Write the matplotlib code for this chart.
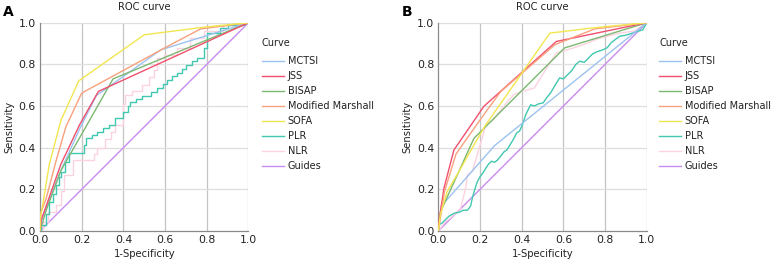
import matplotlib
matplotlib.use("Agg")
import matplotlib.pyplot as plt

plt.rcParams['font.family'] = ['DejaVu Sans']

names = ['MCTSI', 'JSS', 'BISAP', 'Modified Marshall', 'SOFA', 'PLR', 'NLR', 'Guides']
colors = ['#9cc3f0', '#f0506e', '#7cb872', '#f9a07c', '#f2e650', '#40c8b0', '#fcd2e0', '#c88cf0']

# Panel A curves (1-specificity, sensitivity)
a_mctsi_x = [0, 0.01, 0.1, 0.19, 0.27, 0.58, 1]
a_mctsi_y = [0, 0.06, 0.29, 0.49, 0.65, 0.87, 1]
a_jss_x = [0, 0.005, 0.1, 0.19, 0.28, 1]
a_jss_y = [0, 0.05, 0.32, 0.51, 0.67, 1]
a_bisap_x = [0, 0.03, 0.1, 0.22, 0.35, 1]
a_bisap_y = [0, 0.1, 0.29, 0.5, 0.73, 1]
a_mm_x = [0, 0.005, 0.03, 0.076, 0.124, 0.2, 0.6, 0.77, 1]
a_mm_y = [0, 0.09, 0.157, 0.333, 0.5, 0.662, 0.88, 0.97, 1]
a_sofa_x = [0, 0.0, 0.013, 0.044, 0.1, 0.186, 0.5, 0.8, 1]
a_sofa_y = [0, 0.06, 0.125, 0.317, 0.53, 0.721, 0.942, 0.98, 1]
a_plr_x = [0, 0.005, 0.005, 0.03, 0.03, 0.044, 0.044, 0.06, 0.06, 0.076, 0.076, 0.09, 0.09, 0.1,
           0.1, 0.12, 0.12, 0.14, 0.14, 0.211, 0.211, 0.22, 0.22, 0.25, 0.25, 0.275, 0.275, 0.3,
           0.3, 0.33, 0.33, 0.362, 0.362, 0.4, 0.4, 0.42, 0.42, 0.433, 0.433, 0.46, 0.46, 0.489,
           0.489, 0.53, 0.53, 0.563, 0.563, 0.59, 0.59, 0.611, 0.611, 0.635, 0.635, 0.659, 0.659,
           0.68, 0.68, 0.699, 0.699, 0.73, 0.73, 0.754, 0.754, 0.786, 0.786, 0.801, 0.801, 0.865,
           0.865, 0.9, 0.9, 0.98, 0.98, 1]
a_plr_y = [0, 0.0, 0.03, 0.03, 0.08, 0.08, 0.14, 0.14, 0.18, 0.18, 0.22, 0.22, 0.26, 0.26,
           0.285, 0.285, 0.33, 0.33, 0.373, 0.373, 0.413, 0.413, 0.445, 0.445, 0.46, 0.46, 0.477,
           0.477, 0.494, 0.494, 0.51, 0.51, 0.542, 0.542, 0.57, 0.57, 0.6, 0.6, 0.62, 0.62, 0.635,
           0.635, 0.647, 0.647, 0.665, 0.665, 0.686, 0.686, 0.705, 0.705, 0.726, 0.726, 0.742,
           0.742, 0.758, 0.758, 0.78, 0.78, 0.798, 0.798, 0.815, 0.815, 0.83, 0.83, 0.878, 0.878,
           0.95, 0.95, 0.975, 0.975, 0.99, 0.99, 1, 1]
a_nlr_x = [0, 0.013, 0.013, 0.04, 0.04, 0.076, 0.076, 0.1, 0.1, 0.116, 0.116, 0.156, 0.156,
           0.259, 0.259, 0.274, 0.274, 0.314, 0.314, 0.34, 0.34, 0.362, 0.362, 0.378, 0.378,
           0.4, 0.4, 0.41, 0.41, 0.441, 0.441, 0.49, 0.49, 0.524, 0.524, 0.545, 0.545, 0.563,
           0.563, 0.595, 0.595, 0.658, 0.658, 0.72, 0.72, 0.786, 0.786, 0.88, 0.88, 0.98, 0.98, 1]
a_nlr_y = [0, 0, 0.045, 0.045, 0.09, 0.09, 0.125, 0.125, 0.19, 0.19, 0.27, 0.27, 0.34, 0.34,
           0.37, 0.37, 0.397, 0.397, 0.44, 0.44, 0.477, 0.477, 0.509, 0.509, 0.51, 0.51, 0.61,
           0.61, 0.654, 0.654, 0.67, 0.67, 0.7, 0.7, 0.74, 0.74, 0.774, 0.774, 0.83, 0.83, 0.846,
           0.846, 0.88, 0.88, 0.926, 0.926, 0.96, 0.96, 0.99, 0.99, 1, 1]

# Panel B curves
b_mctsi_x = [0, 0.015, 0.27, 1]
b_mctsi_y = [0, 0.12, 0.41, 1]
b_jss_x = [0, 0.003, 0.027, 0.075, 0.219, 0.566, 1]
b_jss_y = [0, 0.045, 0.205, 0.389, 0.599, 0.91, 1]
b_bisap_x = [0, 0.011, 0.171, 0.606, 1]
b_bisap_y = [0, 0.093, 0.445, 0.879, 1]
b_mm_x = [0, 0.03, 0.085, 0.23, 0.3, 0.56, 0.75, 1]
b_mm_y = [0, 0.19, 0.37, 0.575, 0.67, 0.895, 0.97, 1]
b_sofa_x = [0, 0.01, 0.043, 0.107, 0.171, 0.227, 0.535, 0.742, 1]
b_sofa_y = [0, 0.08, 0.19, 0.3, 0.413, 0.509, 0.95, 0.975, 1]
b_plr_x = [0, 0.003, 0.02, 0.03, 0.05, 0.075, 0.1, 0.12, 0.14, 0.155, 0.163, 0.175, 0.187,
           0.2, 0.215, 0.227, 0.24, 0.255, 0.27, 0.283, 0.3, 0.315, 0.33, 0.345, 0.363, 0.375,
           0.39, 0.403, 0.42, 0.443, 0.46, 0.48, 0.503, 0.52, 0.54, 0.56, 0.582, 0.6, 0.62, 0.64,
           0.66, 0.678, 0.7, 0.72, 0.74, 0.76, 0.79, 0.81, 0.83, 0.85, 0.87, 0.9, 0.93, 0.96,
           0.98, 1]
b_plr_y = [0, 0.029, 0.04, 0.05, 0.07, 0.085, 0.09, 0.1, 0.1, 0.12, 0.157, 0.2, 0.237, 0.26,
           0.28, 0.3, 0.32, 0.335, 0.33, 0.34, 0.36, 0.38, 0.39, 0.415, 0.445, 0.47, 0.48, 0.509,
           0.56, 0.606, 0.6, 0.61, 0.615, 0.64, 0.665, 0.7, 0.735, 0.73, 0.75, 0.77, 0.8, 0.815,
           0.81, 0.83, 0.85, 0.86, 0.87, 0.88, 0.905, 0.92, 0.935, 0.94, 0.95, 0.96, 0.965, 1]
b_nlr_x = [0, 0.03, 0.075, 0.107, 0.131, 0.14, 0.163, 0.187, 0.22, 0.227, 0.26, 0.3, 0.33,
           0.363, 0.4, 0.46, 0.5, 0.566, 0.62, 0.694, 0.774, 0.87, 0.94, 1]
b_nlr_y = [0, 0.04, 0.077, 0.109, 0.205, 0.27, 0.285, 0.365, 0.48, 0.509, 0.53, 0.58, 0.62,
           0.655, 0.67, 0.686, 0.75, 0.855, 0.87, 0.894, 0.926, 0.95, 0.96, 1]

guide = [0, 1]

ticks = [0.0, 0.2, 0.4, 0.6, 0.8, 1.0]
tick_labels = ['0.0', '0.2', '0.4', '0.6', '0.8', '1.0']

panels = [
    ('A', 40, 262, [(a_mctsi_x, a_mctsi_y), (a_jss_x, a_jss_y), (a_bisap_x, a_bisap_y), (a_mm_x, a_mm_y),
                    (a_sofa_x, a_sofa_y), (a_plr_x, a_plr_y), (a_nlr_x, a_nlr_y), (guide, guide)]),
    ('B', 438.3, 659, [(b_mctsi_x, b_mctsi_y), (b_jss_x, b_jss_y), (b_bisap_x, b_bisap_y), (b_mm_x, b_mm_y),
                       (b_sofa_x, b_sofa_y), (b_plr_x, b_plr_y), (b_nlr_x, b_nlr_y), (guide, guide)]),
]

W, H = 771, 268
fig = plt.figure(figsize=(W / 100, H / 100), dpi=100)
txt = '#222222'

for letter, left_px, leg_px, curves in panels:
    ax = fig.add_axes([left_px / W, 1 - 231 / H, 208.5 / W, 208.3 / H])
    # draw order: guides and light ones underneath
    order = [7, 6, 5, 0, 2, 1, 3, 4]
    for k, i in enumerate(order):
        x, y = curves[i]
        ax.plot(x, y, color=colors[i], lw=1.0, label=names[i], zorder=3 + k * 0.1)
    ax.set_xlim(0, 1)
    ax.set_ylim(0, 1)
    ax.set_xticks(ticks)
    ax.set_xticklabels(tick_labels)
    ax.set_yticks(ticks)
    ax.set_yticklabels(tick_labels)
    ax.tick_params(labelsize=7.8, length=0, pad=3, colors=txt)
    for x in ticks[1:]:
        ax.axvline(x, color='#c4c4c4', lw=0.9, zorder=1)
    for y in ticks[1:]:
        ax.axhline(y, color='#dedede', lw=0.9, zorder=1)
    for s in ['top', 'right']:
        ax.spines[s].set_visible(False)
    for s in ['left', 'bottom']:
        ax.spines[s].set_color('#8a8a8a')
        ax.spines[s].set_linewidth(0.9)
    ax.set_title('ROC curve', fontsize=7.2, pad=9, color=txt)
    ax.set_xlabel('1-Specificity', fontsize=7.2, labelpad=3, color=txt)
    ax.set_ylabel('Sensitivity', fontsize=7.2, labelpad=3, color=txt)
    fig.text((left_px - 37) / W, 1 - 12 / H, letter, fontsize=10, fontweight='bold', va='center', ha='left')

    fig.text(leg_px / W, 1 - 43 / H, 'Curve', fontsize=7.0, color=txt, va='center', ha='left')
    handles, labels = ax.get_legend_handles_labels()
    hmap = dict(zip(labels, handles))
    leg = fig.legend([hmap[n] for n in names], names, loc='upper left',
                     bbox_to_anchor=(leg_px / W, 1 - 56 / H), frameon=False,
                     fontsize=7.0, handlelength=2.3, handletextpad=0.35,
                     labelspacing=0.52, borderpad=0, borderaxespad=0)
    for t in leg.get_texts():
        t.set_color(txt)

fig.savefig('out.png', dpi=100)
